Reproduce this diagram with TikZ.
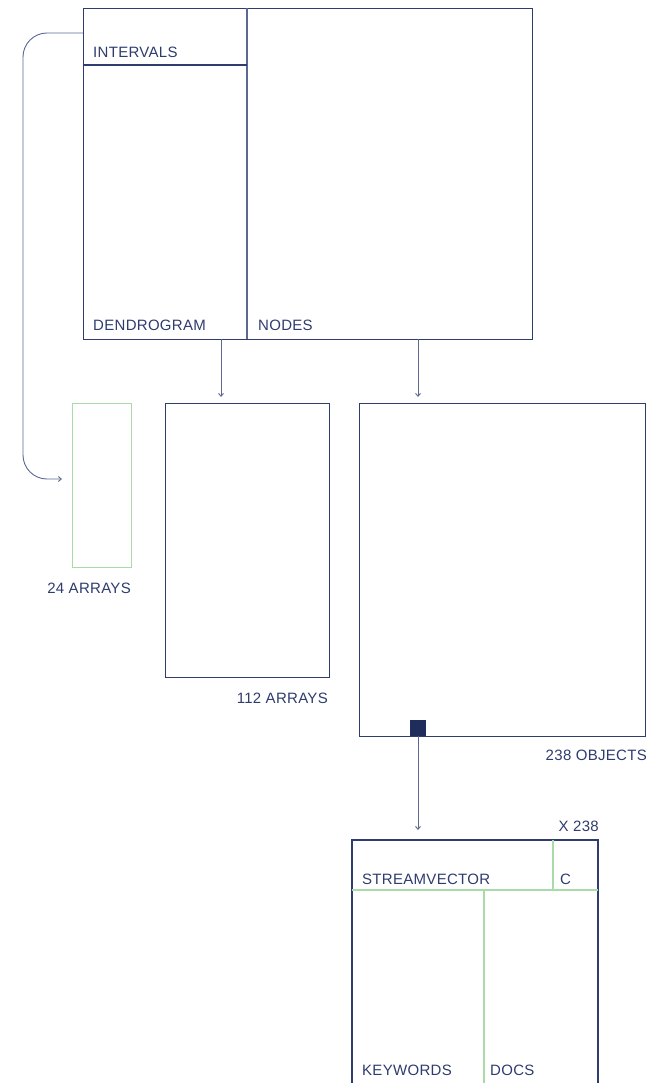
\documentclass[tikz,border=0pt]{standalone}
\usepackage{fontspec}
\setmainfont{Liberation Sans}
\usetikzlibrary{arrows.meta,calc}
\definecolor{navy}{HTML}{2E3C6E}
\definecolor{navyl}{HTML}{5A6893}
\definecolor{sq}{HTML}{1F2D5C}
\definecolor{grn}{HTML}{A9DBA9}
\begin{document}
\begin{tikzpicture}[x=1pt,y=-1pt,
  box/.style={draw=navy,line width=1.1pt,inner sep=0pt,anchor=north west},
  gbox/.style={draw=grn,line width=1.1pt,inner sep=0pt,anchor=north west},
  lbl/.style={text=navy,inner sep=0pt,font=\fontsize{15}{17}\selectfont\addfontfeatures{LetterSpace=2}},
  conn/.style={draw=navyl,line width=0.9pt,-{Straight Barb[length=3pt,width=5pt]}},
  div/.style={draw=navyl,line width=1.1pt},
  gdiv/.style={draw=grn,line width=1.1pt}]
\useasboundingbox (0,0) rectangle (656,1083);
% top box
\node[box,minimum width=449pt,minimum height=331pt] (top) at (83,8) {};
\coordinate (tsplit) at (247,8);
\coordinate (tsplitb) at (247,339);
\draw[div] (tsplit) -- (tsplitb);
\draw[draw=navy,line width=1.1pt] (83,65) -- (247,65);
\node[lbl,anchor=base west] (intervals) at (93,58) {INTERVALS};
\node[lbl,anchor=base west] (dendro) at (93,330) {DENDROGRAM};
\node[lbl,anchor=base west] (nodes) at (258,330) {NODES};
% lower boxes
\node[gbox,minimum width=59pt,minimum height=164pt] (a24) at (72,403) {};
\node[lbl,anchor=base east] (l24) at (131,593) {24 ARRAYS};
\node[box,minimum width=164pt,minimum height=274pt] (a112) at (165,403) {};
\node[lbl,anchor=base east] (l112) at (328,703) {112 ARRAYS};
\node[box,minimum width=286pt,minimum height=333pt] (o238) at (359,403) {};
\node[lbl,anchor=base east] (l238) at (647,760) {238 OBJECTS};
\node[fill=sq,minimum size=16pt,inner sep=0pt,anchor=south] (sqr) at (418,736) {};
% connectors
\coordinate (d1) at (221,339);
\coordinate (d1e) at (221,397);
\coordinate (d2) at (418,339);
\coordinate (d2e) at (418,397);
\draw[conn] (d1) -- (d1e);
\draw[conn] (d2) -- (d2e);
\coordinate (bstart) at (83,33);
\coordinate (bcorner) at (23,479);
\coordinate (bend) at (62,479);
\draw[conn,rounded corners=24pt] (bstart) -| (bcorner) -- (bend);
\coordinate (se) at (418,830);
\draw[conn] (sqr.south) -- (se);
% bottom box
\node[lbl,anchor=base east] (x238) at (599,831) {X 238};
\draw[draw=navy,line width=1.1pt] (352,1095) -- (352,840) -- (598,840) -- (598,1095);
\draw[gdiv] (352,890) -- (598,890);
\draw[gdiv] (553,840) -- (553,890);
\draw[gdiv] (484,890) -- (484,1095);
\node[lbl,anchor=base west] (sv) at (362,884) {STREAMVECTOR};
\node[lbl,anchor=base west] (c) at (560,884) {C};
\node[lbl,anchor=base west] (kw) at (362,1075) {KEYWORDS};
\node[lbl,anchor=base west] (docs) at (490,1075) {DOCS};
\end{tikzpicture}
\end{document}
